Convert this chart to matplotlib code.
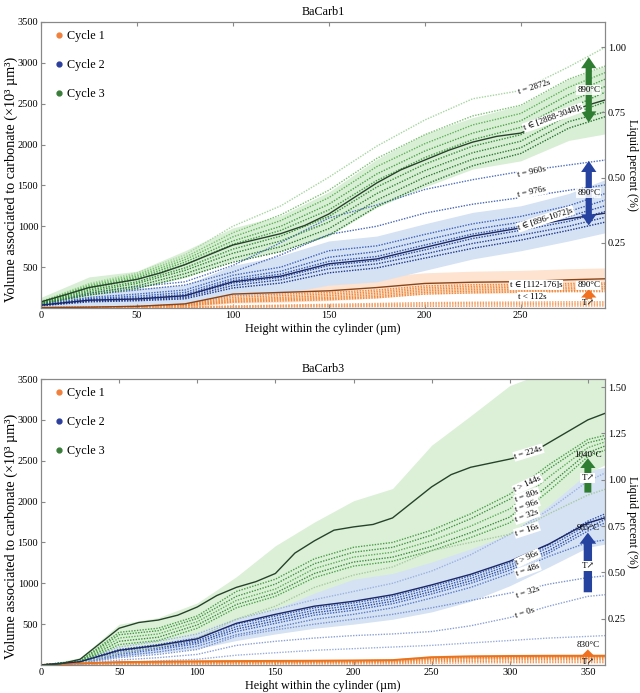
import numpy as np
import matplotlib
matplotlib.use("Agg")
import matplotlib.pyplot as plt
from matplotlib.lines import Line2D

plt.rcParams['font.family'] = ['Liberation Serif', 'DejaVu Serif']

# ---------------- BaCarb1 ----------------
x1 = [0, 25, 50, 75, 100, 125, 150, 175, 200, 225, 250, 275, 294]
x1_fine = [0, 12.5, 25, 37.5, 50, 62.5, 75, 87.5, 100, 112.5, 125, 137.5, 150, 162.5, 175,
           187.5, 200, 212.5, 225, 237.5, 250, 262.5, 275, 287.5, 294]

c3_mean_1 = [75, 160, 250, 300, 350, 430, 530, 650, 770, 840, 910, 1010, 1150, 1340, 1530,
             1690, 1810, 1930, 2030, 2100, 2140, 2260, 2400, 2500, 2545]
c3_up_1 = [130, 380, 450, 700, 980, 1130, 1420, 1820, 2130, 2330, 2480, 2800, 2960]
c3_lo_1 = [20, 140, 240, 370, 580, 700, 880, 1230, 1480, 1700, 1800, 2050, 2130]
c3_runs_1 = [
    [80, 300, 430, 650, 1000, 1250, 1600, 1980, 2300, 2560, 2660, 2950, 3190],
    [75, 285, 410, 620, 920, 1140, 1440, 1830, 2120, 2350, 2480, 2800, 2960],
    [72, 270, 390, 590, 870, 1070, 1350, 1730, 2010, 2240, 2380, 2700, 2880],
    [70, 255, 370, 560, 820, 1000, 1270, 1640, 1920, 2140, 2290, 2610, 2800],
    [66, 240, 350, 530, 780, 950, 1200, 1560, 1840, 2060, 2210, 2520, 2710],
    [62, 220, 320, 490, 720, 880, 1120, 1480, 1760, 1980, 2120, 2440, 2640],
    [58, 200, 300, 460, 670, 820, 1050, 1400, 1680, 1900, 2040, 2360, 2520],
    [54, 180, 270, 420, 610, 750, 970, 1320, 1600, 1820, 1960, 2280, 2400],
    [50, 160, 240, 380, 560, 690, 890, 1240, 1510, 1740, 1890, 2200, 2340],
]

c2_mean_1 = [35, 95, 110, 150, 320, 390, 540, 600, 740, 880, 980, 1090, 1160]
c2_up_1 = [60, 200, 240, 280, 520, 640, 820, 880, 1030, 1170, 1250, 1400, 1570]
c2_lo_1 = [10, 20, 20, 40, 150, 170, 280, 320, 460, 600, 700, 820, 920]
c2_runs_1 = [
    [40, 180, 260, 320, 520, 800, 1100, 1260, 1450, 1570, 1670, 1750, 1810],
    [40, 160, 220, 280, 440, 650, 900, 1000, 1160, 1270, 1350, 1440, 1505],
    [38, 130, 170, 220, 400, 500, 700, 760, 900, 1030, 1120, 1250, 1400],
    [36, 115, 145, 190, 360, 450, 620, 690, 830, 960, 1050, 1180, 1320],
    [34, 105, 125, 165, 335, 415, 570, 630, 770, 905, 1000, 1120, 1250],
    [32, 95, 110, 145, 305, 375, 520, 580, 710, 850, 950, 1060, 1180],
    [30, 85, 98, 128, 275, 345, 480, 540, 660, 790, 890, 1000, 1110],
    [28, 75, 88, 112, 245, 305, 430, 490, 610, 730, 830, 950, 1050],
]

c1_mean_1 = [5, 10, 20, 50, 170, 190, 210, 250, 300, 315, 322, 345, 357]
c1_up_1 = [10, 30, 50, 110, 280, 310, 330, 380, 430, 450, 460, 480, 490]
c1_lo_1 = [0, 0, 0, 0, 60, 70, 90, 120, 170, 180, 185, 210, 225]
c1_runs_1 = [
    [5, 10, 20, 45, 150, 170, 190, 220, 270, 285, 290, 300, 305],
    [4, 8, 18, 40, 130, 150, 170, 200, 250, 265, 270, 280, 285],
    [4, 7, 15, 35, 110, 130, 150, 180, 230, 245, 250, 255, 260],
    [3, 6, 12, 30, 95, 115, 130, 160, 210, 225, 230, 235, 240],
    [3, 5, 10, 25, 80, 100, 115, 140, 190, 205, 210, 215, 220],
    [2, 4, 8, 20, 70, 85, 100, 125, 170, 185, 195, 200, 200],
    [2, 4, 6, 10, 25, 35, 45, 55, 65, 70, 72, 75, 75],
    [1, 3, 5, 8, 20, 28, 35, 42, 50, 55, 57, 58, 60],
    [1, 2, 4, 6, 14, 20, 25, 30, 35, 38, 40, 42, 42],
    [0, 1, 3, 4, 8, 12, 15, 18, 20, 22, 23, 24, 25],
]

# ---------------- BaCarb3 ----------------
x3 = [0, 25, 50, 75, 100, 125, 150, 175, 200, 225, 250, 275, 300, 325, 350, 361]
x3_fine = [0, 12.5, 25, 37.5, 50, 62.5, 75, 87.5, 100, 112.5, 125, 137.5, 150, 162.5, 175,
           187.5, 200, 212.5, 225, 237.5, 250, 262.5, 275, 287.5, 300, 312.5, 325, 337.5, 350, 361]

c3_mean_3 = [0, 15, 70, 260, 450, 520, 550, 610, 710, 850, 950, 1020, 1120, 1370, 1520,
             1650, 1690, 1720, 1800, 1990, 2180, 2330, 2420, 2470, 2520, 2580, 2720, 2860, 3000, 3080]
c3_up_3 = [0, 90, 500, 580, 760, 1080, 1460, 1750, 2010, 2160, 2690, 3050, 3420, 3600, 3800, 3850]
c3_lo_3 = [0, 20, 200, 260, 380, 560, 680, 880, 1050, 1120, 1260, 1420, 1600, 1950, 2350, 2450]
c3_runs_3 = [
    [0, 50, 400, 450, 600, 900, 1050, 1300, 1440, 1500, 1650, 1850, 2090, 2450, 2760, 2810],
    [0, 45, 370, 420, 570, 840, 990, 1240, 1380, 1440, 1590, 1790, 2030, 2400, 2720, 2770],
    [0, 40, 330, 380, 530, 790, 930, 1180, 1320, 1380, 1520, 1700, 1910, 2300, 2660, 2730],
    [0, 35, 290, 340, 490, 740, 880, 1120, 1260, 1320, 1450, 1620, 1810, 2200, 2600, 2680],
    [0, 30, 250, 300, 450, 700, 840, 1070, 1210, 1270, 1400, 1560, 1740, 2130, 2550, 2630],
    [0, 25, 150, 220, 330, 560, 720, 950, 1100, 1200, 1400, 1500, 1600, 1850, 2080, 2150],
]

c2_mean_3 = [0, 40, 180, 240, 320, 510, 620, 720, 780, 860, 980, 1110, 1270, 1480, 1740, 1800]
c2_up_3 = [0, 60, 260, 320, 480, 700, 860, 960, 1060, 1200, 1400, 1600, 1900, 2150, 2380, 2420]
c2_lo_3 = [0, 20, 100, 150, 200, 300, 380, 450, 500, 560, 650, 780, 970, 1200, 1440, 1480]
c2_runs_3 = [
    [0, 50, 220, 290, 380, 560, 680, 800, 900, 1000, 1150, 1350, 1600, 1900, 2250, 2350],
    [0, 45, 190, 250, 330, 500, 600, 700, 760, 840, 960, 1090, 1250, 1470, 1760, 1850],
    [0, 40, 170, 230, 300, 470, 570, 670, 730, 810, 930, 1060, 1220, 1440, 1720, 1820],
    [0, 35, 150, 210, 280, 440, 540, 640, 700, 780, 900, 1030, 1190, 1400, 1680, 1780],
    [0, 30, 130, 190, 260, 410, 510, 610, 670, 750, 870, 1000, 1160, 1370, 1640, 1740],
    [0, 25, 110, 160, 230, 370, 460, 560, 620, 700, 820, 950, 1120, 1330, 1500, 1530],
    [0, 20, 90, 130, 190, 350, 430, 500, 560, 620, 700, 790, 880, 990, 1070, 1090],
    [0, 15, 60, 90, 130, 240, 290, 330, 360, 380, 410, 480, 580, 720, 840, 860],
    [0, 10, 30, 50, 70, 120, 150, 180, 200, 220, 240, 270, 300, 330, 350, 360],
]

c1_mean_3 = [0, 20, 35, 40, 45, 48, 50, 52, 55, 60, 95, 105, 110, 112, 112, 112]
c1_up_3 = [0, 30, 50, 55, 60, 63, 65, 68, 70, 75, 115, 125, 130, 133, 135, 135]
c1_lo_3 = [0, 5, 15, 20, 25, 28, 30, 32, 35, 40, 70, 80, 85, 88, 88, 88]
c1_runs_3 = [
    [0, 18, 32, 37, 42, 45, 47, 49, 52, 57, 90, 100, 105, 107, 107, 107],
    [0, 15, 28, 32, 36, 39, 41, 43, 46, 50, 78, 88, 92, 95, 95, 95],
    [0, 12, 22, 26, 30, 33, 35, 37, 40, 44, 66, 75, 80, 82, 82, 82],
    [0, 9, 17, 20, 24, 26, 28, 30, 32, 35, 52, 60, 64, 66, 66, 66],
    [0, 6, 11, 14, 17, 19, 20, 22, 24, 26, 38, 44, 47, 48, 48, 48],
    [0, 3, 6, 8, 10, 11, 12, 13, 14, 15, 22, 26, 28, 29, 29, 29],
]

green_top = ['#a6d6a0', '#7cc274', '#5fb35a', '#4aa448', '#3d9a40', '#35903a', '#2f8635', '#2a7c31', '#257330']
blue_top = ['#4f6fc0', '#4a68bb', '#3d62bd', '#3357b3', '#2c4ea9', '#26459f', '#213d95', '#1d368b']
green_bot = ['#4a9e48', '#3f9640', '#5aae56', '#3a8e3c', '#4aa448', '#a8c9a0']
blue_bot = ['#9db2e0', '#2c4ea9', '#3357b3', '#26459f', '#3d62bd', '#5b7cc8', '#7b94d0', '#8aa0d6', '#98acdc']
orange_top = ['#f08a3e', '#f0893c', '#ef8638', '#f08a3e', '#ee8435', '#f08a3e',
              '#f4a064', '#f39a5a', '#f4a064', '#f39a5a']
orange_bot = ['#f08030', '#ef7f2e', '#f08a3e', '#ee8435', '#f08a3e', '#f39a5a']

DOT = (0, (1, 1))


def draw_cycle(ax, x, lo, up, runs, xm, mean, band, shades, mean_col, mean_lw=1.0):
    ax.fill_between(x, lo, up, color=band, lw=0, zorder=1)
    for i, r in enumerate(runs):
        ax.plot(x, r, ls=DOT, lw=1.0, color=shades[i % len(shades)], zorder=2)
    ax.plot(xm, mean, color=mean_col, lw=mean_lw, zorder=3)


def tlabel(ax, x, y, s, rot):
    ax.text(x, y, s, fontsize=6.5, rotation=rot, ha='center', va='center', zorder=6,
            bbox=dict(boxstyle='square,pad=0.1', fc='white', ec='none'))


def arrow(ax, x, y0, y1, col, tw=0.45, hw=1.1, hl=0.8, ms=10):
    ax.annotate('', xy=(x, y1), xytext=(x, y0), zorder=5,
                arrowprops=dict(arrowstyle='simple,head_width=%g,head_length=%g,tail_width=%g' % (hw, hl, tw),
                                mutation_scale=ms, color=col, lw=0, shrinkA=0, shrinkB=0))


def style_axes(ax, xmax, xticks, rmax, rticks, title):
    ax.set_xlim(0, xmax)
    ax.set_ylim(0, 3500)
    ax.set_xticks(xticks)
    ax.set_yticks([500, 1000, 1500, 2000, 2500, 3000, 3500])
    ax.tick_params(direction='in', length=3, labelsize=7.5, top=True, color='#888888', pad=2)
    for s in ax.spines.values():
        s.set_color('#888888')
    ax.set_xlabel('Height within the cylinder (µm)', fontsize=8.7, labelpad=2)
    ax.set_ylabel('Volume associated to carbonate (×10³ µm³)', fontsize=10.3)
    ax.yaxis.set_label_coords(-0.041, 0.45)
    ax.set_title(title, fontsize=8.7, pad=5)
    ax2 = ax.twinx()
    ax2.set_ylim(0, rmax)
    ax2.set_yticks(rticks)
    ax2.set_yticklabels(['%.2f' % t for t in rticks])
    ax2.tick_params(direction='in', length=3, labelsize=7.5, color='#888888', pad=2)
    for s in ax2.spines.values():
        s.set_color('#888888')
    ax2.set_ylabel('Liquid percent (%)', fontsize=8.7, rotation=270, labelpad=9)
    handles = [Line2D([], [], ls='none', marker='o', ms=3.5, color=c) for c in ['#f0803c', '#2c3e9c', '#3a7d3a']]
    ax.legend(handles, ['Cycle 1', 'Cycle 2', 'Cycle 3'], loc='upper left', frameon=False,
              fontsize=8.7, handlelength=0.6, handletextpad=0.35, labelspacing=1.4,
              borderaxespad=0.3, bbox_to_anchor=(0.01, 1.0))


fig = plt.figure(figsize=(6.4, 6.93), dpi=100)
axA = fig.add_axes([0.0641, 0.5556, 0.8813, 0.4127])
axB = fig.add_axes([0.0641, 0.0404, 0.8813, 0.4127])

# ---- top panel
draw_cycle(axA, x1, c1_lo_1, c1_up_1, c1_runs_1, x1, c1_mean_1, '#fde3d0', orange_top, '#8a4418')
draw_cycle(axA, x1, c2_lo_1, c2_up_1, c2_runs_1, x1, c2_mean_1, '#d5e2f3', blue_top, '#1c2766')
draw_cycle(axA, x1, c3_lo_1, c3_up_1, c3_runs_1, x1_fine, c3_mean_1, '#d9efd5', green_top, '#26432a')
style_axes(axA, 294, [0, 50, 100, 150, 200, 250], 3500 / 3190, [0.25, 0.5, 0.75, 1.0], 'BaCarb1')

tlabel(axA, 257, 2700, 't = 2872s', 17)
tlabel(axA, 267, 2330, 't ∈ [2888-3048]s', 20)
tlabel(axA, 256, 1665, 't = 960s', 12)
tlabel(axA, 256, 1420, 't = 976s', 12)
tlabel(axA, 263, 1090, 't ∈ [896-1072]s', 18)
tlabel(axA, 258, 280, 't ∈ [112-176]s', 0)
tlabel(axA, 256, 140, 't < 112s', 0)

arrow(axA, 285.5, 2670, 3070, '#2e7d32')
arrow(axA, 285.5, 2670, 2270, '#2e7d32')
axA.text(285.5, 2670, '890°C', fontsize=6.5, ha='center', va='center', zorder=6,
         bbox=dict(boxstyle='square,pad=0.1', fc='white', ec='none', alpha=0.85))
arrow(axA, 285.5, 1410, 1800, '#2743a0')
arrow(axA, 285.5, 1410, 1010, '#2743a0')
axA.text(285.5, 1410, '890°C', fontsize=6.5, ha='center', va='center', zorder=6,
         bbox=dict(boxstyle='square,pad=0.1', fc='white', ec='none', alpha=0.85))
axA.text(285.5, 275, '890°C', fontsize=6.5, ha='center', va='center', zorder=6,
         bbox=dict(boxstyle='square,pad=0.1', fc='white', ec='none'))
arrow(axA, 285.5, 110, 230, '#f07020', tw=0.5, hw=1.1, hl=0.6)
axA.text(285.5, 60, 'T↗', fontsize=6.5, ha='center', va='center', zorder=6)

# ---- bottom panel
draw_cycle(axB, x3, c1_lo_3, c1_up_3, c1_runs_3, x3, c1_mean_3, '#fbd0b0', orange_bot, '#e8731f', 1.4)
draw_cycle(axB, x3, c2_lo_3, c2_up_3, c2_runs_3, x3, c2_mean_3, '#d5e2f3', blue_bot, '#1c2766')
draw_cycle(axB, x3, c3_lo_3, c3_up_3, c3_runs_3, x3_fine, c3_mean_3, '#dcf0d8', green_bot, '#26432a')
style_axes(axB, 361, [0, 50, 100, 150, 200, 250, 300, 350], 3500 / 2267,
           [0.25, 0.5, 0.75, 1.0, 1.25, 1.5], 'BaCarb3')

tlabel(axB, 312, 2600, 't = 224s', 17)
tlabel(axB, 311.5, 2215, 't > 144s', 25)
tlabel(axB, 311, 2072, 't = 80s', 20)
tlabel(axB, 311, 1950, 't = 96s', 20)
tlabel(axB, 311, 1824, 't = 32s', 20)
tlabel(axB, 311, 1652, 't = 16s', 18)
tlabel(axB, 311.5, 1310, 't > 96s', 25)
tlabel(axB, 311.5, 1163, 't = 48s', 20)
tlabel(axB, 311.5, 893, 't = 32s', 18)
tlabel(axB, 310, 636, 't = 0s', 18)

arrow(axB, 350, 2110, 2530, '#2e7d32', tw=0.5, hw=1.1, hl=0.7)
axB.text(350, 2290, 'T↗', fontsize=6.5, ha='center', va='center', zorder=6,
         bbox=dict(boxstyle='square,pad=0.1', fc='white', ec='none'))
axB.text(350, 2574, '1040°C', fontsize=6.5, ha='center', va='center', zorder=6)
arrow(axB, 350, 890, 1620, '#2743a0', tw=0.6, hw=1.2, hl=0.8)
axB.text(350, 1212, 'T↗', fontsize=6.5, ha='center', va='center', zorder=6,
         bbox=dict(boxstyle='square,pad=0.1', fc='white', ec='none'))
axB.text(350, 1680, '955°C', fontsize=6.5, ha='center', va='center', zorder=6)
arrow(axB, 350, 110, 190, '#f07020', tw=0.5, hw=1.0, hl=0.5)
axB.text(350, 40, 'T↗', fontsize=6.5, ha='center', va='center', zorder=6)
axB.text(350, 245, '830°C', fontsize=6.5, ha='center', va='center', zorder=6)

fig.savefig('out.png', dpi=100)
